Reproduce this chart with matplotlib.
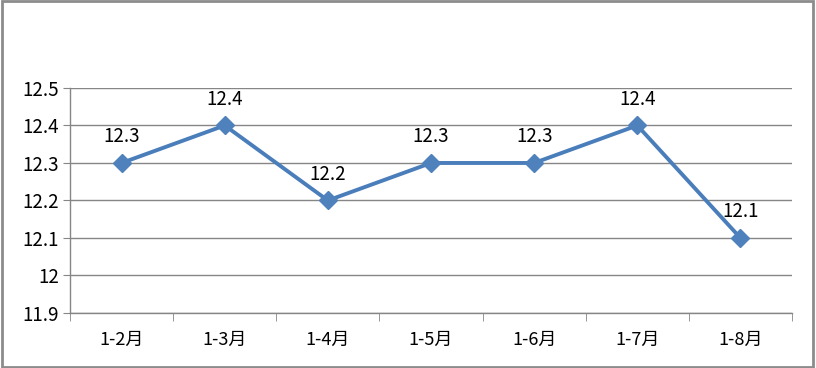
import matplotlib.pyplot as plt
from matplotlib.patches import Rectangle

plt.rcParams['font.family'] = ['Noto Sans CJK SC', 'DejaVu Sans']

# data
months = ['1-2月', '1-3月', '1-4月', '1-5月', '1-6月', '1-7月', '1-8月']
values = [12.3, 12.4, 12.2, 12.3, 12.3, 12.4, 12.1]
yticks = [11.9, 12.0, 12.1, 12.2, 12.3, 12.4, 12.5]
ytick_labels = ['11.9', '12', '12.1', '12.2', '12.3', '12.4', '12.5']

fig = plt.figure(figsize=(8.16, 3.68), dpi=100)
ax = fig.add_axes([0.0858, 0.1495, 0.8848, 0.6115])

grid_col = '#868686'
blue = '#4A7EBB'

x = list(range(len(months)))
ax.plot(x, values, color=blue, lw=2.8, marker='D', markersize=9,
        markerfacecolor='#4F81BD', markeredgecolor='#4F81BD', zorder=3)

for xi, v in zip(x, values):
    ax.annotate(f'{v:g}', (xi, v), xytext=(0, 19), textcoords='offset points',
                ha='center', va='center', fontsize=13.5, color='black')

ax.set_xlim(-0.5, len(months) - 0.5)
ax.set_ylim(11.9, 12.5)
ax.set_yticks(yticks)
ax.set_yticklabels(ytick_labels)
ax.set_xticks(x)
ax.set_xticklabels(months)
ax.set_xticks([i - 0.5 for i in range(len(months) + 1)], minor=True)

ax.grid(axis='y', color=grid_col, lw=1)
ax.set_axisbelow(True)
for s in ['top', 'right']:
    ax.spines[s].set_visible(False)
for s in ['left', 'bottom']:
    ax.spines[s].set_color(grid_col)
    ax.spines[s].set_linewidth(1)

ax.tick_params(axis='y', length=5, color=grid_col, labelsize=13.5, pad=3)
ax.tick_params(axis='x', which='major', length=0, labelsize=13, pad=13)
ax.tick_params(axis='x', which='minor', length=6, color=grid_col)

# outer frame
fig.patches.append(Rectangle((0.002, 0.004), 0.994, 0.992, transform=fig.transFigure,
                             fill=False, edgecolor='#8c8c8c', lw=2))

fig.savefig('out.png', dpi=100)
